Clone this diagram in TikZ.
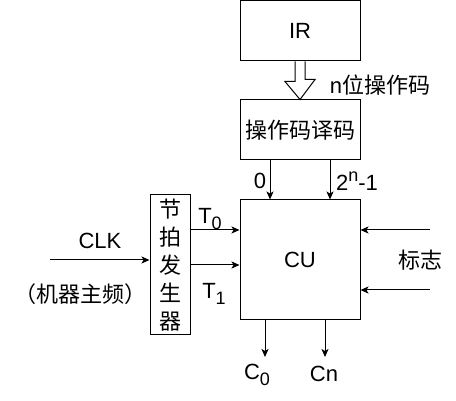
\documentclass[tikz,border=0pt]{standalone}
\usepackage{fontspec}
\setmainfont{Liberation Sans}
\newfontfamily\cjk{Noto Sans CJK SC}
\usetikzlibrary{arrows.meta}
\newcommand{\lowsub}[1]{\raisebox{-0.45ex}{\fontsize{18}{18}\selectfont #1}}
\newcommand{\highsup}[1]{\raisebox{0.75ex}{\fontsize{18}{18}\selectfont #1}}

\begin{document}
\begin{tikzpicture}[x=1pt, y=-1pt, font=\fontsize{22}{26}\selectfont,
    blk/.style={draw, line width=1pt, inner sep=0pt},
    sig/.style={-{Stealth[length=8pt, width=7pt, inset=2pt]}, line width=1pt}]
  \useasboundingbox (0,0) rectangle (456,401);

  % boxes
  \node[blk, minimum width=120pt, minimum height=60pt] (ir) at (300,31) {IR};
  \node[blk, minimum width=120pt, minimum height=60pt] (dec) at (300,130) {\cjk 操作码译码};
  \node[blk, minimum width=120pt, minimum height=120pt] (cu) at (300,260) {CU};
  \node[blk, minimum width=40pt, minimum height=140pt, align=center,
        font=\cjk\fontsize{22}{28}\selectfont] (beat) at (170,265) {节\\拍\\发\\生\\器};

  % hollow arrow IR -> decoder
  \draw[line width=1pt] ([xshift=-5pt]ir.south) -- ++(0,20) -- ++(-10,0) -- (dec.north)
    -- ++(15,-20) -- ++(-10,0) -- ([xshift=5pt]ir.south);
  \node (nbits) at (380,85) {n{\cjk 位操作码}};

  % decoder -> CU
  \draw[sig] ([xshift=-30pt]dec.south) -- ([xshift=-30pt]cu.north);
  \draw[sig] ([xshift=30pt]dec.south) -- ([xshift=30pt]cu.north);
  \node (lzero) at (260,181) {0};
  \node (lmax) at (357,181) {2\highsup{n}-1};

  % clock
  \coordinate (clkin) at (50,260);
  \draw[sig] (clkin) -- (clkin -| beat.west);
  \node (clk) at (100,241) {CLK};
  \node (freq) at (81,294) {\cjk （机器主频）};

  % beats -> CU
  \draw[sig] ([yshift=35pt]beat.east) -- ([yshift=35pt]beat.east -| cu.west);
  \draw[sig] (beat.east) -- (beat.east -| cu.west);
  \node (tzero) at (210,219) {T\lowsub{0}};
  \node (tone) at (214,294) {T\lowsub{1}};

  % flags
  \coordinate (flaga) at (430,230);
  \coordinate (flagb) at (430,290);
  \draw[sig] (flaga) -- (flaga -| cu.east);
  \draw[sig] (flagb) -- (flagb -| cu.east);
  \node (flag) at (420,260) {\cjk 标志};

  % control signals
  \coordinate (czero) at (265,357);
  \coordinate (cn) at (325,357);
  \draw[sig] (czero |- cu.south) -- (czero);
  \draw[sig] (cn |- cu.south) -- (cn);
  \node (lczero) at (257,375) {C\lowsub{0}};
  \node (lcn) at (324,374) {Cn};
\end{tikzpicture}
\end{document}
